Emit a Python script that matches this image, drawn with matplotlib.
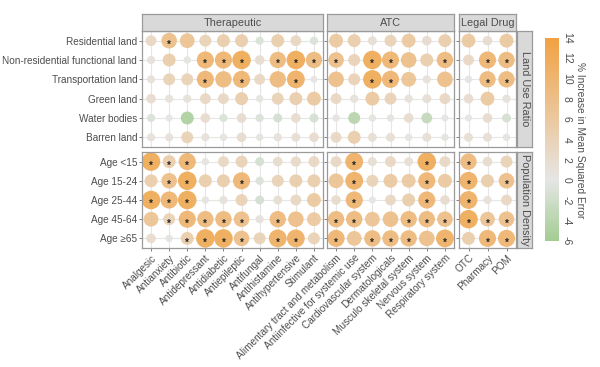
import matplotlib
matplotlib.use("Agg")
import matplotlib.pyplot as plt
import numpy as np
from matplotlib.colors import LinearSegmentedColormap, Normalize

plt.rcParams['font.family'] = ['Liberation Sans', 'DejaVu Sans']

land_rows = ["Residential land", "Non-residential functional land", "Transportation land",
             "Green land", "Water bodies", "Barren land"]
pop_rows = ["Age <15", "Age 15-24", "Age 25-44", "Age 45-64", "Age \u226565"]

ther_cols = ["Analgesic", "Antianxiety", "Antibiotic", "Antidepressant", "Antidiabetic",
             "Antiepileptic", "Antifungal", "Antihistamine", "Antihypertensive", "Stimulant"]
atc_cols = ["Alimentary tract and metabolism", "Antiinfective for systemic use",
            "Cardiovascular system", "Dermatologicals", "Musculo skeletal system",
            "Nervous system", "Respiratory system"]
legal_cols = ["OTC", "Pharmacy", "POM"]

group_names = ["Therapeutic", "ATC", "Legal Drug"]
facet_names = ["Land Use Ratio", "Population Density"]

ther_land = [
    [3, 8, 7, 4, 5, 5, -1, 5, 3, -1],
    [1, 5, 0.5, 10, 10, 12, 2, 9, 12, 9],
    [1, 4, 4, 10, 9, 10, 3, 9, 11, 0.3],
    [2, 1, 1, 3, 3, 5, 0.5, 4, 5, 6],
    [-1, 0.3, -5, 2, -1, 2, -1, -1.5, 2, -1.5],
    [1, 1, 4, 1, 0.5, 2, 0.5, 1, 1.5, 2],
]
ther_land_sig = [
    [0, 1, 0, 0, 0, 0, 0, 0, 0, 0],
    [0, 0, 0, 1, 1, 1, 0, 1, 1, 1],
    [0, 0, 0, 1, 0, 1, 0, 0, 1, 0],
    [0, 0, 0, 0, 0, 0, 0, 0, 0, 0],
    [0, 0, 0, 0, 0, 0, 0, 0, 0, 0],
    [0, 0, 0, 0, 0, 0, 0, 0, 0, 0],
]
atc_land = [
    [6, 5, 1.5, 4, 6, 2, 5],
    [8, 4, 12, 10, 8, 5, 9],
    [8, 4, 12, 10, 7, 1, 8],
    [3, 1, 6, 4, 1, 1.5, 3],
    [0.5, -4, 0.5, 0.5, 2, -3, 0.3],
    [3, 5, 1.5, 1.5, 0.5, 1.5, 0.5],
]
atc_land_sig = [
    [0, 0, 0, 0, 0, 0, 0],
    [1, 0, 1, 1, 0, 0, 1],
    [0, 0, 1, 1, 0, 0, 0],
    [0, 0, 0, 0, 0, 0, 0],
    [0, 0, 0, 0, 0, 0, 0],
    [0, 0, 0, 0, 0, 0, 0],
]
legal_land = [
    [6, 2, 6],
    [3, 10, 9],
    [0.5, 9, 9],
    [2, 6, 1],
    [0.3, 2, -1.5],
    [1.5, 1.5, 0.5],
]
legal_land_sig = [
    [0, 0, 0],
    [0, 1, 1],
    [0, 1, 1],
    [0, 0, 0],
    [0, 0, 0],
    [0, 0, 0],
]
ther_pop = [
    [12, 5, 10, 0.5, 3, 4, -1.5, 2, 2.5, 3],
    [5, 8, 12, 5, 5, 10, -1, 4, 5, 5],
    [12, 10, 12, 0.5, 1, 4, -1.5, 1.5, 3, 6],
    [7, 4, 10, 9, 9, 8, 1, 9, 8, 6],
    [2, 0.5, 5, 12, 12, 8, 4, 11, 11, 4],
]
ther_pop_sig = [
    [1, 1, 1, 0, 0, 0, 0, 0, 0, 0],
    [0, 1, 1, 0, 0, 1, 0, 0, 0, 0],
    [1, 1, 1, 0, 0, 0, 0, 0, 0, 0],
    [0, 1, 1, 1, 1, 1, 0, 1, 0, 0],
    [0, 0, 1, 1, 1, 1, 0, 1, 1, 0],
]
atc_pop = [
    [3, 11, 1.5, 3, 1.5, 12, 3],
    [7, 11, 4, 6, 6, 10, 6],
    [2, 10, 0.3, 3, 5, 10, 2],
    [9, 9, 7, 8, 9, 9, 8],
    [10, 7, 9, 9, 9, 8, 11],
]
atc_pop_sig = [
    [0, 1, 0, 0, 0, 1, 0],
    [0, 1, 0, 0, 0, 1, 0],
    [0, 1, 0, 0, 0, 1, 0],
    [1, 1, 0, 0, 1, 1, 1],
    [1, 0, 1, 1, 1, 0, 1],
]
legal_pop = [
    [9, 2, 4],
    [11, 5, 8],
    [11, 1, 3],
    [12, 7, 8],
    [5, 10, 10],
]
legal_pop_sig = [
    [1, 0, 0],
    [1, 0, 1],
    [1, 0, 0],
    [1, 1, 1],
    [0, 1, 1],
]

# ---------- styling ----------
W, H = 600, 367
fig = plt.figure(figsize=(W / 100, H / 100), dpi=100)

def ax_px(x0, y0, x1, y1):
    return fig.add_axes([x0 / W, 1 - y1 / H, (x1 - x0) / W, (y1 - y0) / H])

vmin, vmax = -6, 14
cmap = LinearSegmentedColormap.from_list(
    "g2", [(0.0, "#a3cd93"), (6 / 20, "#e6e6e6"), (1.0, "#f2a243")])
norm = Normalize(vmin, vmax)

txt_col = "#4d4d4d"
border_col = "#9a9a9a"
strip_bg = "#d9d9d9"
grid_col = "#e6e6e6"
fs = 7.2

def size_of(v):
    return 22 + 13 * np.abs(np.asarray(v, dtype=float))

col_x = [(142, 323), (327, 454), (459, 516)]
row_y = [(31, 147), (152, 248)]
cols_all = [ther_cols, atc_cols, legal_cols]
rows_all = [land_rows, pop_rows]
data = [[ther_land, atc_land, legal_land], [ther_pop, atc_pop, legal_pop]]
sigs = [[ther_land_sig, atc_land_sig, legal_land_sig], [ther_pop_sig, atc_pop_sig, legal_pop_sig]]

for r in range(2):
    for c in range(3):
        x0, x1 = col_x[c]
        y0, y1 = row_y[r]
        ax = ax_px(x0, y0, x1, y1)
        vals = np.array(data[r][c], dtype=float)
        sg = np.array(sigs[r][c])
        nr, nc = vals.shape
        xx, yy = np.meshgrid(np.arange(nc), np.arange(nr))
        ax.set_xlim(-0.5, nc - 0.5)
        ax.set_ylim(nr - 0.5, -0.5)
        ax.set_xticks(np.arange(nc))
        ax.set_yticks(np.arange(nr))
        ax.grid(True, color=grid_col, linewidth=0.8, zorder=0)
        ax.set_axisbelow(True)
        ax.scatter(xx.ravel(), yy.ravel(), s=size_of(vals.ravel()),
                   c=vals.ravel(), cmap=cmap, norm=norm, linewidths=0, zorder=2, alpha=0.95)
        for i in range(nr):
            for j in range(nc):
                if sg[i, j]:
                    ax.text(j, i + 0.22, "*", ha="center", va="center", fontsize=7,
                            color="#222222", zorder=3, fontweight="bold")
        for sp in ax.spines.values():
            sp.set_color(border_col)
            sp.set_linewidth(0.9)
        ax.tick_params(length=2, width=0.5, color=txt_col, labelsize=fs, labelcolor=txt_col, pad=1.5)
        if c == 0:
            ax.set_yticklabels(rows_all[r])
        else:
            ax.set_yticklabels([])
        if r == 1:
            ax.set_xticklabels(cols_all[c], rotation=45, ha="right", rotation_mode="anchor")
        else:
            ax.set_xticklabels([])
            ax.tick_params(axis="x", length=0)
        # top strips
        if r == 0:
            sax = ax_px(x0, 14, x1, 31)
            sax.set_facecolor(strip_bg)
            sax.set_xticks([]); sax.set_yticks([])
            for sp in sax.spines.values():
                sp.set_color(border_col); sp.set_linewidth(0.9)
            sax.text(0.5, 0.5, group_names[c], ha="center", va="center",
                     fontsize=7.8, color=txt_col, transform=sax.transAxes)
    # right strip
    y0, y1 = row_y[r]
    sax = ax_px(517, y0, 532, y1)
    sax.set_facecolor(strip_bg)
    sax.set_xticks([]); sax.set_yticks([])
    for sp in sax.spines.values():
        sp.set_color(border_col); sp.set_linewidth(0.9)
    sax.text(0.5, 0.5, facet_names[r], ha="center", va="center", rotation=-90,
             fontsize=7.8, color=txt_col, transform=sax.transAxes)

# colorbar
cax = ax_px(545, 38, 559, 241)
grad = np.linspace(vmax, vmin, 256).reshape(-1, 1)
cax.imshow(grad, aspect="auto", cmap=cmap, norm=norm, extent=[0, 1, vmin, vmax])
cax.set_xticks([])
cb_ticks = [14, 12, 10, 8, 6, 4, 2, 0, -2, -4, -6]
cax.yaxis.tick_right()
cax.set_yticks(cb_ticks)
cax.set_yticklabels([str(t) for t in cb_ticks], rotation=-90, va="center")
cax.tick_params(axis="y", length=0, labelsize=7.5, labelcolor=txt_col, pad=2)
for sp in cax.spines.values():
    sp.set_visible(False)
fig.text(580 / W, 1 - 140 / H, "% Increase in Mean Squared Error", rotation=-90,
         ha="center", va="center", fontsize=7.3, color=txt_col)

fig.savefig("out.png", dpi=100)
